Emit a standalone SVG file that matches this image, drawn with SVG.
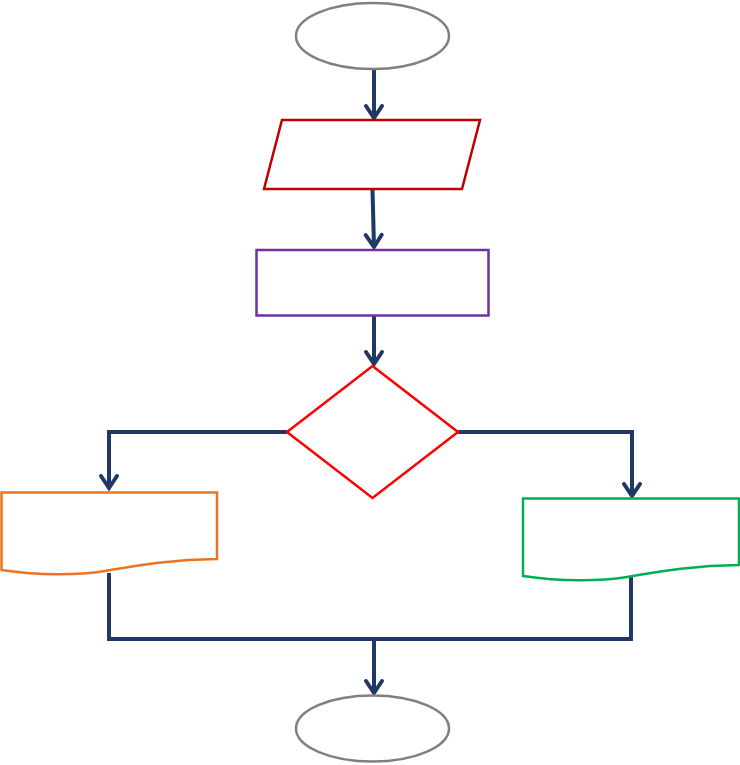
<svg xmlns="http://www.w3.org/2000/svg" width="740" height="765" viewBox="0 0 740 765">
  <style>
    .conn { fill: none; stroke: #1F3864; stroke-width: 4; stroke-linejoin: miter; }
    .shape { fill: #FFFFFF; stroke-width: 2.5; }
    .term { fill: #FFFFFF; stroke: #808080; stroke-width: 2.5; }
  </style>
  <defs>
    <marker id="arr" markerUnits="userSpaceOnUse" markerWidth="30" markerHeight="30" viewBox="-15 -15 30 30" refX="0" refY="0" orient="auto">
      <path d="M-12,-8 L0,0 L-12,8" fill="none" stroke="#1F3864" stroke-width="4" stroke-linecap="round" stroke-linejoin="miter"/>
    </marker>
  </defs>
  <rect x="0" y="0" width="740" height="765" fill="#FFFFFF"/>
  <g id="connectors">
    <path class="conn" d="M374,69 V118" marker-end="url(#arr)"/>
    <path class="conn" d="M372.5,189 L374,247" marker-end="url(#arr)"/>
    <path class="conn" d="M374,316 V364" marker-end="url(#arr)"/>
    <path class="conn" d="M287,432 H109 V488" marker-end="url(#arr)"/>
    <path class="conn" d="M458,432 H632 V496" marker-end="url(#arr)"/>
    <path class="conn" d="M109,573 V639 H374"/>
    <path class="conn" d="M631,573 V639 H374"/>
    <path class="conn" d="M374,639 V693" marker-end="url(#arr)"/>
  </g>
  <g id="start">
    <ellipse class="term" cx="372.5" cy="36" rx="76.5" ry="33"/>
  </g>
  <g id="input">
    <polygon class="shape" stroke="#C00000" points="282,120 480,120 462,189 264,189"/>
  </g>
  <g id="process">
    <rect class="shape" stroke="#7030A0" x="256.5" y="250" width="232" height="65.5"/>
  </g>
  <g id="decision">
    <polygon class="shape" stroke="#FF0000" points="372.5,366 458,432 372.5,498 287,432"/>
  </g>
  <g id="doc-left">
    <path class="shape" stroke="#ED7320" d="M1.5,492.5 H217 V559 C170,559.5 135,566 105,571 C80,575 40,576 1.5,570 Z"/>
  </g>
  <g id="doc-right">
    <path class="shape" stroke="#00B050" d="M523,498.5 H739 V565 C692,565.5 657,572 627,577 C602,581 562,582 523,576 Z"/>
  </g>
  <g id="end">
    <ellipse class="term" cx="372.5" cy="728.5" rx="76.5" ry="33"/>
  </g>
</svg>
